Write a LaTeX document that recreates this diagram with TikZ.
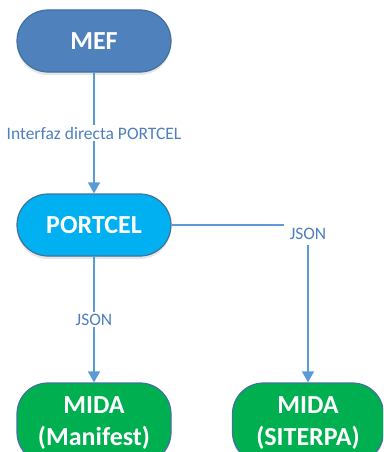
\documentclass[tikz,border=0pt]{standalone}
\usepackage{fontspec}
\setmainfont{Carlito}
\usetikzlibrary{shadows}
\usetikzlibrary{arrows.meta}
\definecolor{mefblue}{HTML}{4F81BD}
\definecolor{portcelblue}{HTML}{00B0F0}
\definecolor{midagreen}{HTML}{00B050}
\definecolor{boxline}{HTML}{41719C}
\definecolor{linkblue}{HTML}{5B9BD5}
\definecolor{lblblue}{HTML}{4F7FBF}

\begin{document}
\begin{tikzpicture}[x=1pt, y=-1pt,
	box/.style={draw=boxline, line width=1.2pt, rounded corners=31pt, minimum width=154pt, minimum height=62pt, text=white, align=center, font=\fontsize{26}{32}\selectfont\bfseries, drop shadow={opacity=0.2, shadow xshift=0pt, shadow yshift=-3pt}},
	link/.style={draw=linkblue, line width=1.6pt, -{Triangle[width=12pt,length=11pt]}},
	lbl/.style={fill=white, text=lblblue, font=\fontsize{17.5}{20}\selectfont, inner sep=2pt}]
	\useasboundingbox (0,0) rectangle (383,452);
	\clip (0,0) rectangle (383,452);

	\node[box, fill=mefblue] (mef) at (94,41) {MEF};
	\node[box, fill=portcelblue] (portcel) at (94,225) {PORTCEL};
	\node[box, fill=midagreen, minimum height=80pt] (manifest) at (94,423) {MIDA\\(Manifest)};
	\node[box, fill=midagreen, minimum height=80pt, minimum width=151pt] (siterpa) at (308,423) {MIDA\\(SITERPA)};

	\draw[link] (mef) -- node[lbl] {Interfaz directa PORTCEL} (portcel);
	\draw[link] (portcel) -- node[lbl] {JSON} (manifest);
	\draw[link] (portcel) -| node[lbl, pos=0.5, yshift=-9pt, inner ysep=5pt, inner xsep=6pt] {JSON} (siterpa);
\end{tikzpicture}
\end{document}
